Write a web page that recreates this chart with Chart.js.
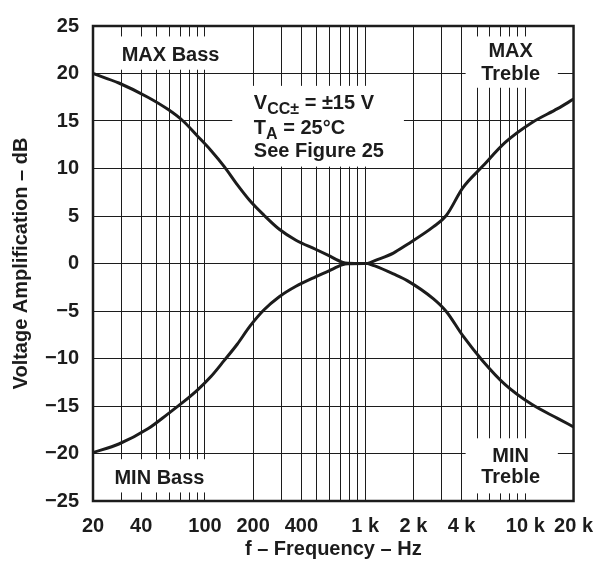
<!DOCTYPE html>
<html>
<head>
<meta charset="utf-8">
<script src="https://cdn.jsdelivr.net/npm/chart.js@4.4.1/dist/chart.umd.min.js"></script>
<style>
  html, body { margin: 0; padding: 0; background: #fff; }
  #wrap { width: 606px; height: 563px; position: relative; }
</style>
</head>
<body>
<div id="wrap"><canvas id="gain"></canvas></div>
<script>
// Tone control response

// bass curves (Hz, dB)
const bassFreq = [20, 29, 44, 59, 73, 90, 109, 132, 159, 191, 233, 291, 370, 490, 590, 718, 780, 1040];
const maxBassDb = [20.0, 19.0, 17.5, 16.2, 15.0, 13.4, 11.9, 10.2, 8.3, 6.6, 5.1, 3.6, 2.45, 1.5, 0.85, 0.15, 0.03, 0];
const minBassDb = [-19.9, -19.0, -17.4, -15.8, -14.6, -13.3, -11.9, -10.2, -8.5, -6.6, -4.9, -3.5, -2.4, -1.4, -0.8, -0.15, -0.03, 0];

// treble curves (Hz, dB)
const trebleFreq = [1040, 1150, 1500, 1830, 2660, 3210, 4070, 5390, 7490, 10900, 15900, 20000];
const maxTrebleDb = [0, 0.3, 1.1, 2.0, 3.85, 5.05, 7.96, 10.2, 12.75, 14.8, 16.3, 17.3];
const minTrebleDb = [0, -0.26, -1.1, -1.8, -3.7, -5.05, -7.6, -10.2, -12.75, -14.8, -16.3, -17.2];

// x grid lines and the labelled ones
const gridFreqs = [20, 30, 40, 50, 60, 70, 80, 90, 100,
                   200, 300, 400, 500, 600, 700, 800, 900, 1000,
                   2000, 3000, 4000, 5000, 6000, 7000, 8000, 9000, 10000, 20000];
const labelFreqs = [20, 40, 100, 200, 400, 1000, 2000, 4000, 10000, 20000];
const labelTexts = ['20', '40', '100', '200', '400', '1 k', '2 k', '4 k', '10 k', '20 k'];

const FONT = '"Liberation Sans", Arial, Helvetica, sans-serif';
const INK = '#1c1c1c';

function pairs(xs, ys) {
    return xs.map((x, i) => ({ x: x, y: ys[i] }));
}

// white boxes behind the in-plot notes (data units)
const noteBoxes = [
    { x0: 20, x1: 125, y0: 20.4, y1: 23.9 },      // MAX Bass
    { x0: 148, x1: 1746, y0: 10.2, y1: 18.7 },    // conditions
    { x0: 4240, x1: 15960, y0: 18.5, y1: 23.9 },  // MAX Treble
    { x0: 4240, x1: 15960, y0: -18.4, y1: -24.2 },// MIN Treble
    { x0: 20, x1: 109, y0: -20.6, y1: -24.1 }     // MIN Bass
];

const notesPlugin = {
    id: 'notes',
    beforeDatasetsDraw(chart) {
        const { ctx, scales: { x, y } } = chart;
        ctx.save();
        ctx.fillStyle = '#fff';
        noteBoxes.forEach(b => {
            const l = x.getPixelForValue(b.x0), r = x.getPixelForValue(b.x1);
            const t = y.getPixelForValue(Math.max(b.y0, b.y1)), btm = y.getPixelForValue(Math.min(b.y0, b.y1));
            ctx.fillRect(l, t, r - l, btm - t);
        });
        ctx.restore();
    },
    afterDraw(chart) {
        const { ctx, chartArea: a, scales: { x, y } } = chart;
        ctx.save();
        // frame
        ctx.strokeStyle = INK;
        ctx.lineWidth = 2.5;
        ctx.strokeRect(a.left, a.top, a.right - a.left, a.bottom - a.top);

        ctx.fillStyle = INK;
        ctx.font = 'bold 20px ' + FONT;
        ctx.textBaseline = 'alphabetic';
        ctx.textAlign = 'center';
        const cx = v => x.getPixelForValue(v);
        const cy = v => y.getPixelForValue(v);
        ctx.fillText('MAX Bass', cx(61), cy(21.3));
        ctx.fillText('MIN Bass', cx(52), cy(-23.25));
        ctx.fillText('MAX', cx(8100), cy(21.7));
        ctx.fillText('Treble', cx(8100), cy(19.35));
        ctx.fillText('MIN', cx(8100), cy(-20.9));
        ctx.fillText('Treble', cx(8100), cy(-23.15));

        // conditions, with subscripts
        ctx.textAlign = 'left';
        const big = 'bold 20px ' + FONT, small = 'bold 16px ' + FONT;
        function run(parts, px, py) {
            parts.forEach(p => {
                ctx.font = p[1] ? small : big;
                ctx.fillText(p[0], px, py + (p[1] ? 5 : 0));
                px += ctx.measureText(p[0]).width;
            });
        }
        const left = cx(202);
        run([['V', 0], ['CC\u00b1', 1], [' = \u00b115 V', 0]], left, cy(16.27));
        run([['T', 0], ['A', 1], [' = 25\u00b0C', 0]], left, cy(13.6));
        run([['See Figure 25', 0]], left, cy(11.24));
        ctx.restore();
    }
};

const series = [
    pairs(bassFreq, maxBassDb),
    pairs(bassFreq, minBassDb),
    pairs(trebleFreq, maxTrebleDb),
    pairs(trebleFreq, minTrebleDb)
];

new Chart(document.getElementById('gain'), {
    type: 'line',
    data: {
        datasets: series.map(d => ({
            data: d,
            borderColor: INK,
            borderWidth: 3,
            pointRadius: 0,
            fill: false,
            cubicInterpolationMode: 'monotone'
        }))
    },
    options: {
        responsive: true,
        maintainAspectRatio: false,
        animation: false,
        layout: { padding: { left: 0, right: 23, top: 14, bottom: 0 } },
        plugins: { legend: { display: false }, tooltip: { enabled: false } },
        scales: {
            x: {
                type: 'logarithmic',
                min: 20,
                max: 20000,
                afterBuildTicks: s => { s.ticks = gridFreqs.map(v => ({ value: v })); },
                afterFit: s => { s.height = 62; },
                grid: { color: INK, lineWidth: 1, drawTicks: false },
                border: { display: false },
                ticks: {
                    autoSkip: false,
                    maxRotation: 0,
                    padding: 13,
                    color: INK,
                    font: { family: FONT, size: 20, weight: 'bold' },
                    callback: v => {
                        const i = labelFreqs.indexOf(v);
                        return i < 0 ? '' : labelTexts[i];
                    }
                },
                title: {
                    display: true,
                    text: 'f \u2013 Frequency \u2013 Hz',
                    color: INK,
                    font: { family: FONT, size: 20, weight: 'bold' },
                    padding: { top: 0, bottom: 2 }
                }
            },
            y: {
                min: -25,
                max: 25,
                afterFit: s => { s.width = 93; },
                grid: { color: INK, lineWidth: 1, drawTicks: false },
                border: { display: false },
                ticks: {
                    stepSize: 5,
                    padding: 14,
                    color: INK,
                    font: { family: FONT, size: 20, weight: 'bold' },
                    callback: v => v < 0 ? '\u2212' + Math.abs(v) : String(v)
                },
                title: {
                    display: true,
                    text: 'Voltage Amplification \u2013 dB',
                    color: INK,
                    font: { family: FONT, size: 20, weight: 'bold' },
                    padding: { top: 9, bottom: 0 }
                }
            }
        }
    },
    plugins: [notesPlugin]
});
</script>
</body>
</html>
